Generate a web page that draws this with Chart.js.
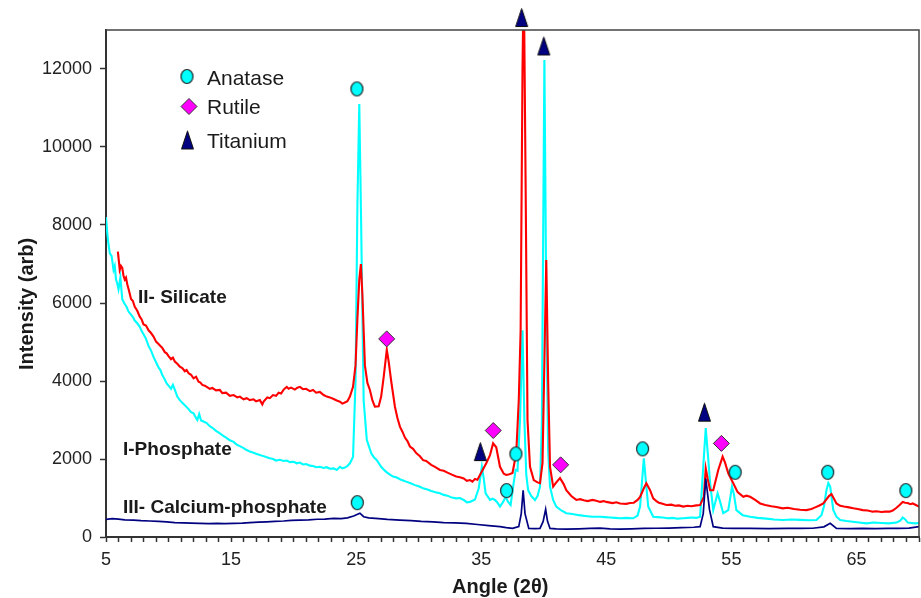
<!DOCTYPE html>
<html>
<head>
<meta charset="utf-8">
<script src="https://cdn.jsdelivr.net/npm/chart.js@4.4.1/dist/chart.umd.min.js"></script>
<style>
  html, body { margin: 0; padding: 0; background: #fff; }
  #wrap { width: 921px; height: 598px; position: relative; }
</style>
</head>
<body>
<div id="wrap"><canvas id="xrdChart"></canvas></div>
<script>
// [angle 2θ, intensity]
// II- Silicate (red)
const silicate = [
  [5.95, 7320], [6.1, 6850], [6.2, 6950], [6.3, 6900], [6.4, 6700], [6.5, 6600], [6.6, 6650], [6.7, 6480],
  [6.85, 6300], [7.0, 6100], [7.15, 6050], [7.3, 5900], [7.5, 5800], [7.7, 5650], [7.85, 5580], [8.0, 5450],
  [8.2, 5420], [8.4, 5300], [8.6, 5230], [8.8, 5140], [9.0, 5010], [9.2, 4950], [9.35, 4900], [9.5, 4850],
  [9.7, 4740], [9.85, 4710], [10.0, 4640], [10.2, 4560], [10.35, 4600], [10.5, 4500], [10.7, 4440], [10.9, 4370],
  [11.1, 4330], [11.3, 4250], [11.45, 4280], [11.6, 4200], [11.8, 4160], [12.0, 4070], [12.2, 4110], [12.4, 3980],
  [12.55, 3960], [12.7, 3900], [12.9, 3880], [13.05, 3850], [13.3, 3800], [13.5, 3820], [13.8, 3760], [14.1, 3770],
  [14.3, 3690], [14.6, 3700], [14.9, 3620], [15.2, 3640], [15.5, 3580], [15.7, 3600], [16.0, 3530], [16.25, 3560],
  [16.5, 3510], [16.8, 3530], [17.0, 3480], [17.3, 3510], [17.5, 3400], [17.6, 3470], [17.9, 3580], [18.1, 3560],
  [18.35, 3640], [18.6, 3620], [18.8, 3700], [19.0, 3680], [19.2, 3780], [19.45, 3850], [19.6, 3800], [19.8, 3830],
  [20.1, 3780], [20.3, 3830], [20.5, 3850], [20.75, 3790], [21.0, 3800], [21.3, 3740], [21.55, 3770], [21.8, 3700],
  [22.1, 3720], [22.4, 3640], [22.65, 3600], [22.9, 3580], [23.2, 3540], [23.45, 3500], [23.7, 3470], [23.9, 3420],
  [24.1, 3450], [24.3, 3480], [24.5, 3600], [24.75, 3850], [24.95, 4400], [25.1, 5600], [25.25, 6600], [25.38, 7000],
  [25.5, 6200], [25.7, 4400], [25.9, 3950], [26.1, 3770], [26.3, 3500], [26.5, 3340], [26.8, 3350], [27.0, 3600],
  [27.2, 4100], [27.45, 4800], [27.6, 4500], [27.8, 4000], [28.1, 3340], [28.3, 3050], [28.5, 2830], [28.7, 2700],
  [28.9, 2550], [29.1, 2460], [29.3, 2320], [29.55, 2260], [29.8, 2150], [30.1, 2070], [30.35, 1970], [30.6, 1950],
  [31.0, 1850], [31.3, 1800], [31.7, 1720], [32.0, 1700], [32.3, 1650], [32.65, 1600], [33.0, 1550], [33.3, 1530],
  [33.6, 1500], [33.85, 1440], [34.1, 1460], [34.3, 1420], [34.5, 1490], [34.7, 1470], [34.9, 1590], [35.4, 1890],
  [35.7, 2100], [35.95, 2400], [36.2, 2300], [36.5, 1800], [36.8, 1620], [37.0, 1590], [37.25, 1610], [37.5, 1640],
  [37.8, 2150], [38.0, 3500], [38.15, 5300], [38.3, 12000], [38.4, 14500], [38.55, 9000], [38.7, 3000], [38.9, 1800],
  [39.2, 1460], [39.5, 1400], [39.7, 1380], [39.9, 1900], [40.05, 4500], [40.2, 7100], [40.35, 4000], [40.5, 1800],
  [40.75, 1290], [41.0, 1400], [41.3, 1510], [41.6, 1350], [41.8, 1200], [42.2, 1050], [42.6, 950], [42.9, 970],
  [43.2, 940], [43.5, 920], [43.9, 950], [44.2, 930], [44.5, 900], [44.8, 920], [45.0, 900], [45.5, 870],
  [45.8, 890], [46.1, 860], [46.6, 850], [46.9, 870], [47.2, 880], [47.5, 950], [47.7, 1030], [48.0, 1250],
  [48.2, 1380], [48.5, 1200], [48.75, 990], [49.0, 920], [49.2, 880], [49.5, 850], [49.8, 820], [50.2, 830],
  [50.5, 800], [50.8, 810], [51.15, 780], [51.5, 800], [51.8, 790], [52.2, 810], [52.5, 820], [52.8, 1030],
  [52.95, 1760], [53.1, 1500], [53.3, 1200], [53.55, 1200], [53.95, 1720], [54.3, 2060], [54.5, 1900], [54.75, 1630],
  [55.15, 1380], [55.5, 1150], [55.95, 1030], [56.2, 1060], [56.5, 1030], [56.9, 950], [57.3, 860], [57.7, 820],
  [58.2, 790], [58.6, 770], [59.1, 735], [59.5, 750], [60.0, 720], [60.5, 700], [61.0, 690], [61.4, 720],
  [61.7, 760], [62.0, 800], [62.35, 860], [62.8, 1050], [63.0, 1100], [63.2, 980], [63.4, 860], [63.7, 800],
  [64.0, 780], [64.4, 760], [64.75, 735], [65.1, 720], [65.5, 690], [65.9, 680], [66.3, 650], [66.6, 660],
  [67.0, 640], [67.3, 650], [67.65, 650], [67.9, 680], [68.2, 750], [68.45, 820], [68.7, 900], [68.9, 880],
  [69.1, 870], [69.3, 840], [69.5, 860], [69.75, 820], [70.0, 780]
];

// I-Phosphate (cyan)
const phosphate = [
  [5.0, 8200], [5.1, 7800], [5.2, 7500], [5.3, 7280], [5.45, 7200], [5.6, 6850], [5.7, 6950], [5.8, 6600],
  [5.9, 6500], [6.0, 6350], [6.15, 6650], [6.3, 6100], [6.45, 6000], [6.65, 5900], [6.8, 5780], [7.0, 5700],
  [7.15, 5640], [7.3, 5550], [7.5, 5480], [7.7, 5390], [7.85, 5280], [8.0, 5200], [8.2, 5080], [8.4, 4900],
  [8.6, 4780], [8.8, 4620], [9.0, 4480], [9.2, 4350], [9.35, 4280], [9.5, 4150], [9.7, 4040], [9.85, 3940],
  [10.0, 3880], [10.2, 3800], [10.35, 3900], [10.5, 3780], [10.7, 3600], [10.9, 3510], [11.1, 3440], [11.3, 3380],
  [11.45, 3330], [11.6, 3280], [11.8, 3200], [12.0, 3170], [12.15, 3080], [12.3, 3000], [12.45, 3150], [12.6, 2990],
  [12.8, 2960], [13.05, 2920], [13.3, 2840], [13.5, 2800], [13.8, 2720], [14.1, 2660], [14.35, 2600], [14.6, 2550],
  [14.9, 2480], [15.2, 2440], [15.45, 2370], [15.7, 2330], [16.0, 2280], [16.25, 2230], [16.5, 2190], [16.8, 2160],
  [17.05, 2130], [17.3, 2100], [17.55, 2080], [17.8, 2050], [18.1, 2020], [18.35, 2000], [18.6, 1960], [18.9, 1980],
  [19.2, 1950], [19.45, 1960], [19.7, 1920], [20.0, 1930], [20.25, 1890], [20.5, 1910], [20.75, 1860], [21.0, 1870],
  [21.3, 1830], [21.55, 1820], [21.8, 1790], [22.1, 1800], [22.4, 1770], [22.65, 1790], [22.9, 1750], [23.2, 1760],
  [23.45, 1720], [23.7, 1800], [23.9, 1760], [24.1, 1780], [24.3, 1820], [24.5, 1890], [24.75, 2050], [24.95, 4000],
  [25.1, 8500], [25.25, 11100], [25.4, 8000], [25.6, 3500], [25.85, 2490], [26.2, 2150], [26.4, 2050], [26.65, 1970],
  [27.0, 1800], [27.2, 1730], [27.4, 1670], [27.7, 1600], [27.95, 1550], [28.2, 1530], [28.5, 1480], [28.75, 1450],
  [29.0, 1420], [29.35, 1380], [29.7, 1330], [30.0, 1300], [30.35, 1250], [30.7, 1220], [31.0, 1180], [31.35, 1150],
  [31.7, 1120], [32.0, 1080], [32.3, 1060], [32.65, 1010], [33.0, 990], [33.3, 1000], [33.6, 950], [33.85, 890],
  [34.1, 900], [34.3, 930], [34.5, 960], [34.8, 1250], [35.05, 1800], [35.2, 1500], [35.35, 1120], [35.7, 950],
  [35.9, 980], [36.1, 950], [36.3, 880], [36.5, 780], [36.75, 900], [36.95, 1030], [37.15, 900], [37.35, 820],
  [37.6, 1400], [37.75, 1720], [37.9, 1700], [38.1, 3000], [38.3, 5300], [38.45, 3000], [38.6, 1600], [38.75, 1200],
  [39.0, 1050], [39.3, 950], [39.5, 1050], [39.7, 1290], [39.85, 3000], [40.05, 12230], [40.2, 6000], [40.35, 2200],
  [40.5, 1290], [40.75, 950], [41.0, 780], [41.4, 680], [41.8, 610], [42.3, 590], [42.8, 560], [43.3, 540],
  [43.9, 520], [44.5, 520], [44.9, 510], [45.3, 500], [45.7, 490], [46.1, 480], [46.6, 490], [47.15, 480],
  [47.5, 550], [47.7, 780], [48.0, 2020], [48.2, 1300], [48.35, 780], [48.75, 520], [49.1, 510], [49.5, 500],
  [49.9, 480], [50.3, 490], [50.7, 470], [51.15, 480], [51.5, 490], [51.8, 500], [52.2, 490], [52.5, 520],
  [52.75, 1800], [52.95, 2790], [53.15, 2000], [53.3, 1380], [53.55, 690], [53.9, 1120], [54.1, 900], [54.35, 610],
  [54.75, 690], [55.05, 1290], [55.2, 1100], [55.4, 690], [55.9, 560], [56.5, 520], [57.1, 490], [57.8, 470],
  [58.4, 450], [59.1, 435], [59.8, 450], [60.5, 440], [61.2, 430], [61.8, 435], [62.2, 560], [62.4, 780],
  [62.6, 1200], [62.75, 1380], [62.9, 1290], [63.15, 690], [63.4, 520], [63.7, 435], [64.2, 410], [64.7, 390],
  [65.2, 370], [65.8, 350], [66.4, 370], [67.0, 360], [67.6, 350], [68.2, 370], [68.5, 420], [68.7, 500],
  [68.9, 450], [69.1, 370], [69.4, 360], [69.7, 350], [70.0, 360]
];

// III- Calcium-phosphate (navy)
const calcium = [
  [5.0, 450], [5.5, 470], [6.0, 460], [6.5, 440], [7.2, 435], [7.8, 420], [8.5, 410], [9.2, 400],
  [9.85, 390], [10.5, 370], [11.2, 360], [11.8, 355], [12.5, 350], [13.2, 345], [13.9, 350], [14.5, 345],
  [15.2, 350], [15.9, 355], [16.5, 370], [17.2, 380], [17.85, 390], [18.5, 400], [19.2, 410], [19.8, 425],
  [20.5, 435], [21.2, 440], [21.9, 455], [22.5, 460], [23.2, 480], [23.8, 470], [24.3, 490], [24.8, 540],
  [25.3, 610], [25.6, 520], [26.0, 490], [26.8, 470], [27.5, 450], [28.5, 435], [29.4, 420], [30.2, 400],
  [31.15, 390], [32.0, 370], [32.9, 360], [33.8, 350], [34.7, 320], [35.6, 290], [36.5, 265], [37.0, 240],
  [37.5, 220], [38.0, 265], [38.2, 600], [38.35, 1200], [38.5, 600], [38.8, 220], [39.3, 215], [39.7, 220],
  [39.95, 400], [40.15, 710], [40.3, 400], [40.5, 220], [41.0, 210], [41.8, 200], [42.8, 210], [43.7, 220],
  [44.5, 230], [45.3, 210], [46.1, 200], [47.0, 210], [48.0, 220], [49.0, 225], [50.0, 230], [51.0, 240],
  [52.0, 250], [52.5, 265], [52.75, 600], [52.95, 1500], [53.1, 1100], [53.25, 700], [53.55, 265], [54.3, 230],
  [55.15, 220], [56.5, 220], [58.0, 215], [59.5, 220], [60.5, 220], [61.5, 225], [62.4, 260], [62.9, 350],
  [63.4, 220], [64.5, 215], [65.5, 220], [66.5, 215], [67.5, 220], [68.3, 220], [69.2, 230], [70.0, 265]
];

// phase markers [angle, height]
const anatase = [[25.06, 11490], [25.09, 880], [37.03, 1190], [37.77, 2130], [47.9, 2260], [55.3, 1660], [62.7, 1660], [68.95, 1190]];
const rutile = [[27.44, 5080], [35.96, 2730], [41.35, 1850], [54.2, 2400]];
const titanium = [[34.93, 2190], [38.23, 13320], [40.0, 12590], [52.85, 3200]];

const yTicks = [0, 2000, 4000, 6000, 8000, 10000, 12000];
const xLabels = [5, 15, 25, 35, 45, 55, 65];

const FONT = "'Liberation Sans', Arial, Helvetica, sans-serif";
const toPoints = (pairs) => pairs.map(([x, y]) => ({ x: x, y: y }));

function markImage(kind) {
  const c = document.createElement("canvas");
  const g = c.getContext("2d");
  if (kind === "tri") {
    c.width = 15; c.height = 21;
    g.beginPath();
    g.moveTo(7.5, 1.5); g.lineTo(13.5, 19.5); g.lineTo(1.5, 19.5); g.closePath();
    g.fillStyle = "#000080"; g.fill();
    g.strokeStyle = "#111"; g.lineWidth = 1; g.stroke();
  } else {
    c.width = 15; c.height = 17;
    g.beginPath();
    g.ellipse(7.5, 8.5, 6, 7, 0, 0, Math.PI * 2);
    g.fillStyle = "#00FFFF"; g.fill();
    g.strokeStyle = "#222"; g.lineWidth = 1.2; g.stroke();
  }
  return c;
}
const triMark = markImage("tri");
const dotMark = markImage("dot");

// frame, legend, curve labels and axis titles
const decorPlugin = {
  id: "decor",
  afterDraw(chart) {
    const ctx = chart.ctx;
    const a = chart.chartArea;
    ctx.save();
    ctx.strokeStyle = "#444";
    ctx.lineWidth = 1.5;
    ctx.beginPath();
    ctx.moveTo(a.left, a.top);
    ctx.lineTo(a.right, a.top);
    ctx.lineTo(a.right, a.bottom);
    ctx.stroke();

    // legend
    ctx.drawImage(dotMark, 187 - 7.5, 76.5 - 8.5);
    ctx.fillStyle = "#FF00FF";
    ctx.strokeStyle = "#333";
    ctx.lineWidth = 1;
    ctx.beginPath();
    ctx.moveTo(181, 106.5); ctx.lineTo(189, 98.5); ctx.lineTo(197, 106.5); ctx.lineTo(189, 114.5);
    ctx.closePath(); ctx.fill(); ctx.stroke();
    ctx.drawImage(triMark, 187.5 - 7.5, 140 - 10.5);

    ctx.fillStyle = "#1a1a1a";
    ctx.textAlign = "left";
    ctx.textBaseline = "alphabetic";
    ctx.font = "21px " + FONT;
    ctx.fillText("Anatase", 207, 85);
    ctx.fillText("Rutile", 207, 114);
    ctx.fillText("Titanium", 207, 147.5);

    // curve labels
    ctx.font = "bold 19px " + FONT;
    ctx.fillText("II- Silicate", 138, 303);
    ctx.fillText("I-Phosphate", 123, 455);
    ctx.fillText("III- Calcium-phosphate", 123, 512.5);

    // axis titles
    ctx.font = "bold 20px " + FONT;
    ctx.fillText("Angle (2\u03B8)", 452, 592.5);
    ctx.translate(32.5, 370);
    ctx.rotate(-Math.PI / 2);
    ctx.fillText("Intensity (arb)", 0, 0);
    ctx.restore();
  }
};

const lineSet = (label, pairs, color, width) => ({
  label: label,
  data: toPoints(pairs),
  showLine: true,
  borderColor: color,
  backgroundColor: color,
  borderWidth: width,
  pointRadius: 0,
  tension: 0
});

new Chart(document.getElementById("xrdChart"), {
  type: "scatter",
  data: {
    datasets: [
      // big radius only widens the area check so the top triangle is still drawn
      { label: "Titanium", data: toPoints(titanium), pointStyle: triMark, pointRadius: 20, borderWidth: 0, clip: false },
      { label: "Rutile", data: toPoints(rutile), pointStyle: "rectRot", pointRadius: 8,
        backgroundColor: "#FF00FF", borderColor: "#333", borderWidth: 1, clip: false },
      { label: "Anatase", data: toPoints(anatase), pointStyle: dotMark, pointRadius: 10, clip: false },
      lineSet("III- Calcium-phosphate", calcium, "#000080", 1.7),
      lineSet("II- Silicate", silicate, "#FF0000", 2.1),
      lineSet("I-Phosphate", phosphate, "#00FFFF", 2.1)
    ]
  },
  options: {
    responsive: true,
    maintainAspectRatio: false,
    animation: false,
    devicePixelRatio: 1,
    layout: { autoPadding: false, padding: { top: 30, right: 2, left: 0, bottom: 0 } },
    plugins: {
      legend: { display: false },
      tooltip: { enabled: false }
    },
    scales: {
      x: {
        type: "linear",
        min: 5,
        max: 70,
        afterFit: (s) => { s.height = 61; s.paddingRight = 0; s.paddingLeft = 0; },
        border: { color: "#333", width: 2 },
        grid: { drawOnChartArea: false, tickLength: 5, tickColor: "#333", tickWidth: 1.5 },
        ticks: {
          stepSize: 1,
          autoSkip: false,
          maxRotation: 0,
          padding: 7,
          color: "#222",
          font: { family: FONT, size: 18 },
          callback: (v) => xLabels.includes(Math.round(v)) ? String(Math.round(v)) : ""
        }
      },
      y: {
        min: 0,
        max: 13000,
        afterFit: (s) => { s.width = 106; },
        afterBuildTicks: (s) => { s.ticks = yTicks.map((v) => ({ value: v })); },
        border: { color: "#333", width: 2 },
        grid: { drawOnChartArea: false, tickLength: 6, tickColor: "#333", tickWidth: 1.5 },
        ticks: {
          padding: 8,
          color: "#222",
          font: { family: FONT, size: 18 },
          callback: (v) => String(v)
        }
      }
    }
  },
  plugins: [decorPlugin]
});
</script>
</body>
</html>
